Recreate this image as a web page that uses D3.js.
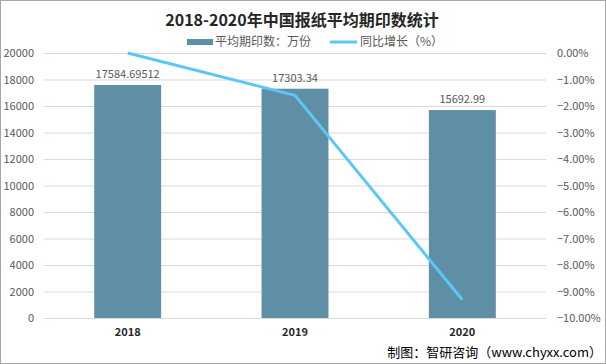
<!DOCTYPE html>
<html><head><meta charset="utf-8">
<script src="https://cdn.jsdelivr.net/npm/d3@7"></script>
<style>body{margin:0;background:#fff}svg{display:block}</style>
</head><body>
<svg id="c" width="606" height="364"></svg>
<script>
const years = ["2018","2019","2020"];
const copies = [17584.69512, 17303.34, 15692.99];
const copyLabels = ["17584.69512","17303.34","15692.99"];
const growth = [0, -1.6, -9.31];
const leftTicks = [0,2000,4000,6000,8000,10000,12000,14000,16000,18000,20000];
const rightTicks = [0,-1,-2,-3,-4,-5,-6,-7,-8,-9,-10];

const svg = d3.select("#c");
const font = "'Microsoft YaHei','Noto Sans CJK SC','Liberation Sans',sans-serif";
const L = 44, R = 546, T = 53, B = 318;

svg.append("rect").attr("x",0.5).attr("y",0.5).attr("width",605).attr("height",363)
  .attr("fill","#fff").attr("stroke","#a6a6a6");

const x = d3.scaleBand().domain(years).range([L,R]).paddingInner(0.6).paddingOuter(0.3);
const xc = d => x(d) + x.bandwidth()/2;
const y = d3.scaleLinear().domain([0,20000]).range([B,T]);
const y2 = d3.scaleLinear().domain([-10,0]).range([B,T]);

// gridlines
svg.append("g").selectAll("line").data(leftTicks.filter(d=>d>0)).join("line")
  .attr("x1",L).attr("x2",R).attr("y1",d=>y(d)+0.5).attr("y2",d=>y(d)+0.5)
  .attr("stroke","#d9d9d9");

// left axis
const ya = svg.append("g").attr("transform",`translate(${L},0)`)
  .call(d3.axisLeft(y).tickValues(leftTicks).tickSize(0).tickPadding(10).tickFormat(d3.format("d")));
ya.select(".domain").remove();
ya.selectAll("text").attr("fill","#595959").style("font-size","11px").style("font-family",font);

// right axis
const ra = svg.append("g").attr("transform",`translate(${R},0)`)
  .call(d3.axisRight(y2).tickValues(rightTicks).tickSize(0).tickPadding(11)
    .tickFormat(d => d3.format(".2f")(d) + "%"));
ra.select(".domain").remove();
ra.selectAll("text").attr("fill","#595959").style("font-size","11px").style("font-family",font);

// bars
svg.append("g").selectAll("rect").data(years).join("rect")
  .attr("x",d=>x(d)).attr("width",x.bandwidth())
  .attr("y",(d,i)=>y(copies[i])).attr("height",(d,i)=>B-y(copies[i]))
  .attr("fill","#5f8fa6");

// baseline
svg.append("line").attr("x1",L).attr("x2",R).attr("y1",B+0.5).attr("y2",B+0.5).attr("stroke","#d9d9d9");

// bar labels
svg.append("g").selectAll("text").data(years).join("text")
  .attr("x",d=>xc(d)).attr("y",(d,i)=>y(copies[i])-7)
  .attr("text-anchor","middle").attr("fill","#595959")
  .style("font-size","11px").style("font-family",font)
  .text((d,i)=>copyLabels[i]);

// line
const line = d3.line().x((d,i)=>xc(years[i])).y(d=>y2(d));
svg.append("path").datum(growth).attr("d",line)
  .attr("fill","none").attr("stroke","#5bc8f3").attr("stroke-width",3)
  .attr("stroke-linejoin","round");

// x labels
svg.append("g").selectAll("text").data(years).join("text")
  .attr("x",d=>xc(d)).attr("y",336).attr("text-anchor","middle")
  .attr("fill","#262626").style("font-size","11px").style("font-weight","bold")
  .style("font-family",font).text(d=>d);

// title
svg.append("text").attr("x",302).attr("y",26).attr("text-anchor","middle")
  .attr("fill","#262626").style("font-size","16px").style("font-weight","bold")
  .style("font-family",font).text("2018-2020年中国报纸平均期印数统计");

// legend
const lg = svg.append("g").style("font-family",font).style("font-size","12px");
lg.append("rect").attr("x",187).attr("y",39).attr("width",26).attr("height",6).attr("fill","#5f8fa6");
lg.append("text").attr("x",215).attr("y",46).attr("fill","#595959").text("平均期印数：万份");
lg.append("line").attr("x1",330).attr("x2",357).attr("y1",42).attr("y2",42)
  .attr("stroke","#5bc8f3").attr("stroke-width",3);
lg.append("text").attr("x",360).attr("y",46).attr("fill","#595959").text("同比增长（%）");

// footer
svg.append("text").attr("x",602).attr("y",357).attr("text-anchor","end")
  .attr("fill","#000").style("font-size","13px").style("font-family",font)
  .text("制图：智研咨询（www.chyxx.com）");
</script>
</body></html>
